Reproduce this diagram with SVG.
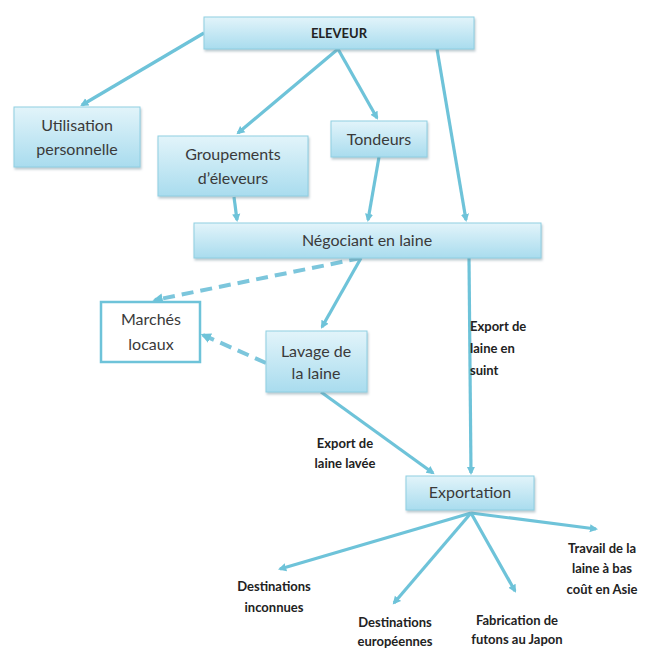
<svg xmlns="http://www.w3.org/2000/svg" width="648" height="650" viewBox="0 0 648 650">
<defs>
<linearGradient id="g" x1="0" y1="0" x2="0" y2="1">
<stop offset="0" stop-color="#e2f4fa"/>
<stop offset="1" stop-color="#a9dcee"/>
</linearGradient>
<filter id="sh" x="-10%" y="-20%" width="120%" height="150%">
<feDropShadow dx="1" dy="2" stdDeviation="1.2" flood-color="#6a8a96" flood-opacity="0.45"/>
</filter>
<marker id="ah" viewBox="0 0 10 10" refX="6" refY="5" markerWidth="3.2" markerHeight="3.2" orient="auto" markerUnits="strokeWidth">
<path d="M0,1 L8,5 L0,9 z" fill="#6ec3d9"/>
</marker>
</defs>
<style>
.box{fill:url(#g);stroke:#8fcfe2;stroke-width:1;filter:url(#sh)}
.t{font-family:Lato,"Open Sans",sans-serif;font-size:16px;fill:#3a3a3a;text-anchor:middle}
.b{font-family:Lato,"Open Sans",sans-serif;font-size:13px;font-weight:bold;fill:#222;text-anchor:middle}
.s{text-anchor:start}
.c{fill:none;stroke:#6ec3d9;stroke-width:3.2;marker-end:url(#ah)}
.d{fill:none;stroke:#7cc6dc;stroke-width:4;stroke-dasharray:12 7;marker-end:url(#ah)}
</style>
<rect width="648" height="650" fill="#ffffff"/>
<g id="connectors">
<line class="c" x1="204" y1="33" x2="82" y2="105"/>
<line class="c" x1="338" y1="49" x2="238" y2="133"/>
<line class="c" x1="338" y1="49" x2="377" y2="118"/>
<line class="c" x1="437" y1="49" x2="466" y2="220"/>
<line class="c" x1="234" y1="197" x2="237" y2="220"/>
<line class="c" x1="379" y1="157" x2="368" y2="220"/>
<line class="c" x1="361" y1="258" x2="322" y2="327"/>
<line class="d" x1="361" y1="258" x2="155" y2="300"/>
<line class="d" x1="266" y1="363" x2="203" y2="335"/>
<line class="c" x1="469" y1="258" x2="471" y2="473"/>
<line class="c" x1="321" y1="392" x2="433" y2="473"/>
<line class="c" x1="471" y1="513" x2="280" y2="569"/>
<line class="c" x1="471" y1="513" x2="394" y2="603"/>
<line class="c" x1="471" y1="513" x2="515" y2="591"/>
<line class="c" x1="471" y1="513" x2="596" y2="529"/>
</g>
<g id="eleveur"><rect class="box" x="204" y="17" width="270" height="32"/><text class="b" x="339" y="38">ELEVEUR</text></g>
<g id="utilisation"><rect class="box" x="14" y="107" width="126" height="60"/><text class="t" x="77" y="131">Utilisation</text><text class="t" x="77" y="155">personnelle</text></g>
<g id="groupements"><rect class="box" x="158" y="136" width="150" height="60"/><text class="t" x="233" y="160">Groupements</text><text class="t" x="233" y="184">d’éleveurs</text></g>
<g id="tondeurs"><rect class="box" x="331" y="121" width="96" height="36"/><text class="t" x="379" y="145">Tondeurs</text></g>
<g id="negociant"><rect class="box" x="194" y="223" width="347" height="35"/><text class="t" x="367" y="246">Négociant en laine</text></g>
<g id="marches"><rect x="101" y="302" width="99" height="60" fill="#ffffff" stroke="#6ec3d9" stroke-width="2.5"/><text class="t" x="151" y="325">Marchés</text><text class="t" x="151" y="350">locaux</text></g>
<g id="lavage"><rect class="box" x="266" y="331" width="101" height="61"/><text class="t" x="316" y="357">Lavage de</text><text class="t" x="316" y="379">la laine</text></g>
<g id="exportation"><rect class="box" x="406" y="476" width="128" height="34"/><text class="t" x="470" y="498">Exportation</text></g>
<g id="label-suint"><text class="b s" x="470" y="331">Export de</text><text class="b s" x="470" y="353">laine en</text><text class="b s" x="470" y="375">suint</text></g>
<g id="label-lavee"><text class="b" x="345" y="448">Export de</text><text class="b" x="345" y="468">laine lavée</text></g>
<g id="dest-inconnues"><text class="b" x="274" y="591">Destinations</text><text class="b" x="274" y="612">inconnues</text></g>
<g id="dest-europe"><text class="b" x="395" y="627">Destinations</text><text class="b" x="395" y="646">européennes</text></g>
<g id="futons"><text class="b" x="517" y="625">Fabrication de</text><text class="b" x="517" y="644">futons au Japon</text></g>
<g id="asie"><text class="b" x="602" y="553">Travail de la</text><text class="b" x="602" y="573">laine à bas</text><text class="b" x="602" y="594">coût en Asie</text></g>
</svg>
